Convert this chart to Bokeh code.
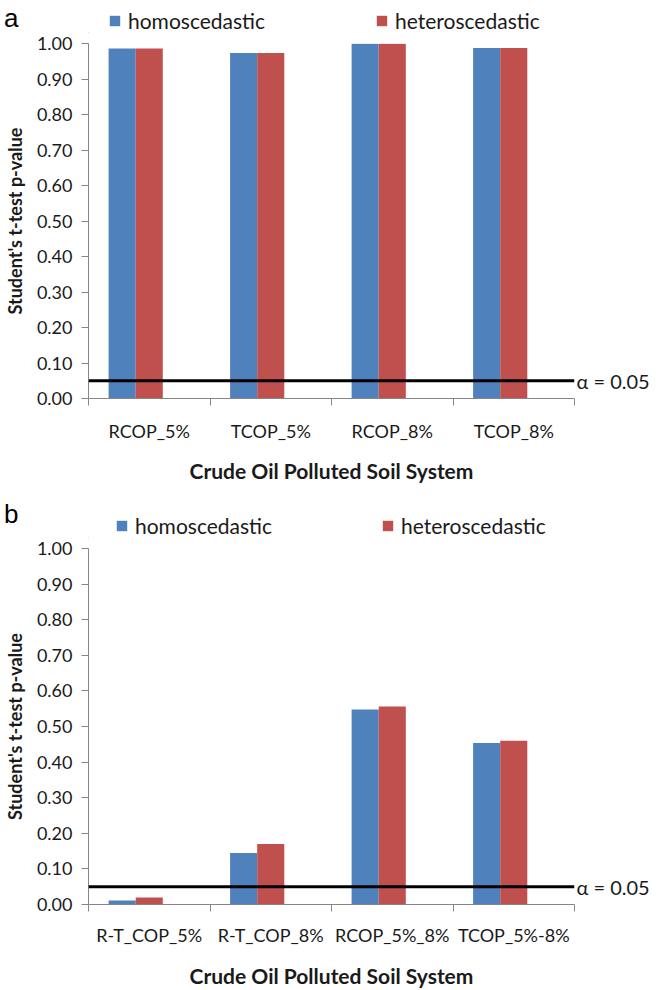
import numpy as np
from bokeh.plotting import figure
from bokeh.models import (ColumnDataSource, Range1d, FixedTicker, NumeralTickFormatter,
                          Span, Legend, LegendItem, LinearAxis)
from bokeh.layouts import column
from bokeh.embed import file_html
from bokeh.resources import INLINE

# ---------------- data ----------------
categories_a = ["RCOP_5%", "TCOP_5%", "RCOP_8%", "TCOP_8%"]
homo_a = [0.986, 0.973, 0.999, 0.987]
hetero_a = [0.986, 0.973, 0.999, 0.987]

categories_b = ["R-T_COP_5%", "R-T_COP_8%", "RCOP_5%_8%", "TCOP_5%-8%"]
homo_b = [0.011, 0.145, 0.548, 0.454]
hetero_b = [0.020, 0.170, 0.556, 0.460]

series_names = ["homoscedastic", "heteroscedastic"]
y_ticks = [0.0, 0.1, 0.2, 0.3, 0.4, 0.5, 0.6, 0.7, 0.8, 0.9, 1.0]
alpha_level = 0.05
panel_letters = ["a", "b"]
x_title = "Crude Oil Polluted Soil System"
y_title = "Student's t-test p-value"

# ---------------- style ----------------
FONT = "Lato"
BLUE = "#4F81BD"
RED = "#C0504D"
AXIS_GRAY = "#868686"
TEXT = "#1a1a1a"
BAR_W = 0.223
W = 658
LEFT = 86
FRAME_W = 488
RIGHT = W - LEFT - FRAME_W


def make_header(letter, height, letter_from_top, legend_xs, label_h):
    h = figure(width=W, height=height, output_backend="svg", toolbar_location=None,
               x_range=Range1d(0, 1), y_range=Range1d(0, height),
               min_border_left=LEFT, min_border_right=RIGHT,
               min_border_top=0, min_border_bottom=0,
               x_axis_location=None, y_axis_location=None)
    h.outline_line_color = None
    h.xgrid.visible = False
    h.ygrid.visible = False

    # panel letter, drawn as the single label of a bare left axis
    pos = float(height - letter_from_top)
    la = LinearAxis(ticker=FixedTicker(ticks=[pos]))
    la.major_label_overrides = {pos: letter}
    la.axis_line_color = None
    la.major_tick_line_color = None
    la.minor_tick_line_color = None
    la.major_tick_in = 0
    la.major_tick_out = 0
    la.major_label_standoff = 70
    la.major_label_text_font = "Liberation Sans"
    la.major_label_text_font_size = "26px"
    la.major_label_text_color = "black"
    h.add_layout(la, "left")

    for name, color, lx in zip(series_names, [BLUE, RED], legend_xs):
        r = h.vbar(x=[-10], top=[1], width=1, fill_color=color, line_color=None)
        h.add_layout(Legend(items=[LegendItem(label=name, renderers=[r])],
                            location=(lx, 0), orientation="horizontal",
                            padding=0, margin=0, label_standoff=7,
                            glyph_width=13, glyph_height=13, label_height=label_h,
                            label_text_font=FONT, label_text_font_size="21px",
                            label_text_color=TEXT, background_fill_alpha=0,
                            border_line_color=None))
    return h


def make_chart(cats, homo, hetero, height, top, frame_h, xlab_standoff, xtitle_standoff):
    n = len(cats)
    centers = np.arange(n) + 0.5
    src = ColumnDataSource(dict(xb=centers - BAR_W, xr=centers, homo=homo, hetero=hetero))

    p = figure(width=W, height=height, output_backend="svg", toolbar_location=None,
               x_range=Range1d(0, n), y_range=Range1d(0, 1.0),
               min_border_left=LEFT, min_border_right=RIGHT,
               min_border_top=top, min_border_bottom=height - top - frame_h,
               x_axis_location=None, y_axis_location=None)
    p.outline_line_color = None
    p.xgrid.visible = False
    p.ygrid.visible = False

    p.vbar(x="xb", top="homo", width=BAR_W, source=src, fill_color=BLUE, line_color=None)
    p.vbar(x="xr", top="hetero", width=BAR_W, source=src, fill_color=RED, line_color=None)

    # y axis
    ya = LinearAxis(ticker=FixedTicker(ticks=y_ticks), formatter=NumeralTickFormatter(format="0.00"))
    ya.axis_line_color = AXIS_GRAY
    ya.major_tick_line_color = AXIS_GRAY
    ya.major_tick_in = 0
    ya.major_tick_out = 7
    ya.minor_tick_line_color = None
    ya.major_label_text_font = FONT
    ya.major_label_text_font_size = "18px"
    ya.major_label_text_color = TEXT
    ya.major_label_standoff = 9
    ya.axis_label = y_title
    ya.axis_label_text_font = FONT
    ya.axis_label_text_font_style = "bold"
    ya.axis_label_text_font_size = "18px"
    ya.axis_label_text_color = TEXT
    ya.axis_label_standoff = 8
    p.add_layout(ya, "left")

    # x axis: category boundaries as ticks, names centred in each category
    xa = LinearAxis(ticker=FixedTicker(ticks=list(centers), minor_ticks=list(range(n + 1))))
    xa.major_label_overrides = {float(c): name for c, name in zip(centers, cats)}
    xa.axis_line_color = AXIS_GRAY
    xa.major_tick_line_color = None
    xa.major_tick_in = 0
    xa.major_tick_out = 7
    xa.minor_tick_line_color = AXIS_GRAY
    xa.minor_tick_in = 0
    xa.minor_tick_out = 7
    xa.major_label_text_font = FONT
    xa.major_label_text_font_size = "18px"
    xa.major_label_text_color = TEXT
    xa.major_label_standoff = xlab_standoff
    xa.axis_label = x_title
    xa.axis_label_text_font = FONT
    xa.axis_label_text_font_style = "bold"
    xa.axis_label_text_font_size = "21px"
    xa.axis_label_text_color = TEXT
    xa.axis_label_standoff = xtitle_standoff
    p.add_layout(xa, "below")

    # significance line and its label (as a one-tick axis on the right)
    p.add_layout(Span(location=alpha_level, dimension="width", line_color="black", line_width=3))
    ra = LinearAxis(ticker=FixedTicker(ticks=[alpha_level]))
    ra.major_label_overrides = {alpha_level: f"\u03b1 = {alpha_level:.2f}"}
    ra.axis_line_color = None
    ra.major_tick_line_color = None
    ra.minor_tick_line_color = None
    ra.major_tick_in = 0
    ra.major_tick_out = 0
    ra.major_label_standoff = 2
    ra.major_label_text_font = FONT
    ra.major_label_text_font_size = "20px"
    ra.major_label_text_color = TEXT
    p.add_layout(ra, "right")
    return p


ha = make_header(panel_letters[0], 33, 13, [20, 287], 26)
pa = make_chart(categories_a, homo_a, hetero_a, 457, 10, 355, 14, 13)
hb = make_header(panel_letters[1], 48, 23, [27, 293], 24)
pb = make_chart(categories_b, homo_b, hetero_b, 452, 10, 360, 12, 14)

layout = column(ha, pa, hb, pb, spacing=0)
open("out.html", "w").write(file_html(layout, INLINE))
